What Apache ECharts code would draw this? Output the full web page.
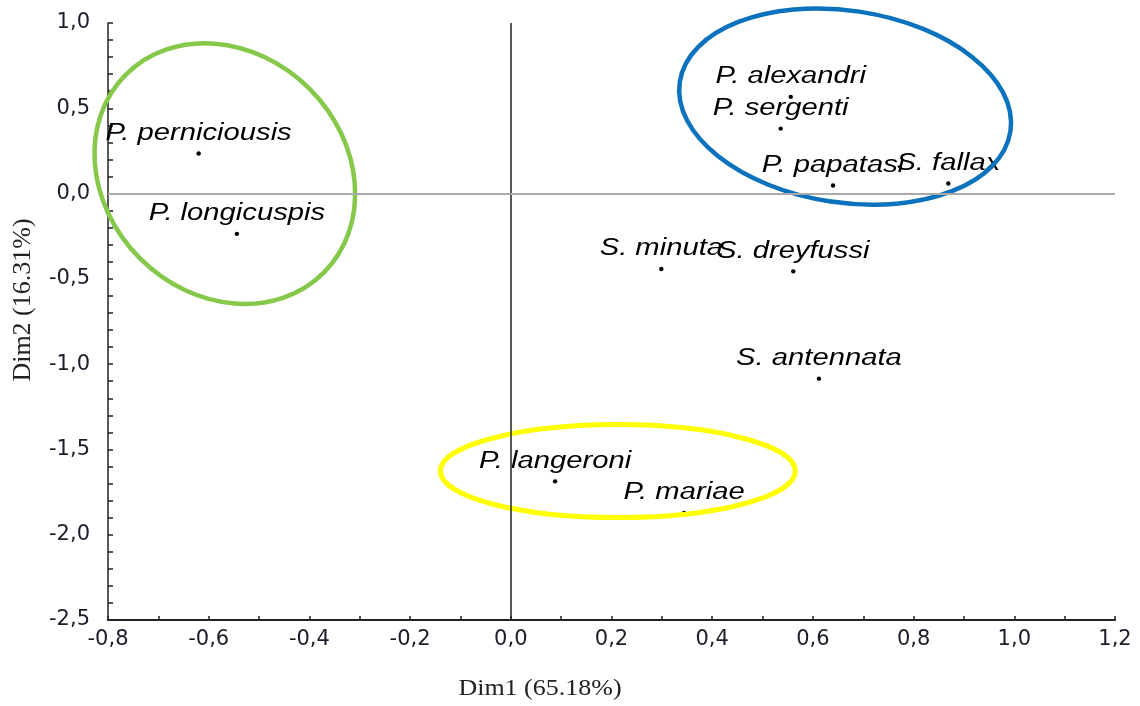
<!DOCTYPE html>
<html><head><meta charset="utf-8">
<script src="https://cdn.jsdelivr.net/npm/echarts@6/dist/echarts.min.js"></script>
<style>html,body{margin:0;padding:0;background:#fff}#c{width:1140px;height:706px}</style>
</head><body><div id="c"></div><script>
// ---- data ----
const speciesNames = ['P. perniciousis','P. longicuspis','P. alexandri','P. sergenti','P. papatasi','S. fallax','S. minuta','S. dreyfussi','S. antennata','P. langeroni','P. mariae'];
const dim1 = [-0.620, -0.544, 0.556, 0.536, 0.640, 0.869, 0.299, 0.561, 0.612, 0.088, 0.344];
const dim2 = [0.235, -0.236, 0.567, 0.381, 0.047, 0.059, -0.442, -0.456, -1.085, -1.687, -1.873];
const xTickLabels = ['-0,8','-0,6','-0,4','-0,2','0,0','0,2','0,4','0,6','0,8','1,0','1,2'];
const yTickLabels = ['-2,5','-2,0','-1,5','-1,0','-0,5','0,0','0,5','1,0'];
const xAxisTitle = 'Dim1 (65.18%)';
const yAxisTitle = 'Dim2 (16.31%)';
// group ellipses (data units): centre, semi-axes, tilt in degrees
const groupCenterX = [-0.568, 0.664, 0.2125];
const groupCenterY = [0.117, 0.510, -1.627];
const groupRadiusX = [0.278, 0.332, 0.3525];
const groupRadiusY = [0.703, 0.563, 0.2726];
const groupTilt = [45, 8.5, 0];

// ---- styles ----
const groupColors = ['#86c84a', '#0b72bd', '#ffff00'];
const groupWidths = [4.5, 4.5, 5];

const pointData = speciesNames.map((n, i) => [dim1[i], dim2[i], i]);
const ellipseData = groupCenterX.map((c, i) => [c, groupCenterY[i], groupRadiusX[i], groupRadiusY[i], groupTilt[i], i]);

const chart = echarts.init(document.getElementById('c'), null, {renderer: 'canvas'});
chart.setOption({
  animation: false,
  backgroundColor: '#fff',
  grid: {left: 108, right: 25, top: 23, bottom: 86, containLabel: false},
  xAxis: {
    type: 'value', min: -0.8, max: 1.2, interval: 0.1,
    axisLine: {show: true, onZero: false, lineStyle: {color: '#222', width: 2}},
    axisTick: {show: true, inside: true, length: 4, lineStyle: {color: '#222', width: 1.5}},
    splitLine: {show: false},
    axisLabel: {
      margin: 9, color: '#1c1c2a', fontFamily: 'DejaVu Sans', fontSize: 21, showMinLabel: true, showMaxLabel: true,
      formatter: v => {
        const k = Math.round((v + 0.8) / 0.1);
        return k % 2 === 0 ? xTickLabels[k / 2] : '';
      }
    }
  },
  yAxis: {
    type: 'value', min: -2.5, max: 1.0, interval: 0.1,
    axisLine: {show: true, onZero: false, lineStyle: {color: '#222', width: 1.5}},
    axisTick: {show: true, inside: true, length: 5, lineStyle: {color: '#222', width: 1.5}},
    splitLine: {show: false},
    axisLabel: {
      margin: 18, color: '#1c1c2a', fontFamily: 'DejaVu Sans', fontSize: 21, showMinLabel: true, showMaxLabel: true,
      formatter: v => {
        const k = Math.round((v + 2.5) / 0.1);
        return k % 5 === 0 ? yTickLabels[k / 5] : '';
      }
    }
  },
  graphic: [
    {type: 'text', x: 540, y: 689, scaleY: 0.9,
     style: {text: xAxisTitle, fontFamily: 'Liberation Serif', fontSize: 26, fill: '#222', align: 'center', verticalAlign: 'middle'}},
    {type: 'text', x: 23, y: 300, rotation: Math.PI / 2,
     style: {text: yAxisTitle, fontFamily: 'Liberation Serif', fontSize: 26, fill: '#222', align: 'center', verticalAlign: 'middle'}}
  ],
  series: [
    {
      type: 'custom', name: 'species', clip: false, z: 3,
      data: pointData,
      encode: {x: 0, y: 1},
      renderItem: (params, api) => {
        const p = api.coord([api.value(0), api.value(1)]);
        const name = speciesNames[api.value(2)];
        return {
          type: 'group',
          children: [
            {type: 'circle', shape: {cx: p[0], cy: p[1], r: 2.2}, style: {fill: '#000'}},
            {type: 'text', x: p[0], y: p[1] - 20, scaleX: 1.27,
             style: {text: name, fontFamily: 'Liberation Sans', fontStyle: 'italic', fontSize: 23,
                     fill: '#000', align: 'center', verticalAlign: 'middle'}}
          ]
        };
      },
      markLine: {
        silent: true, symbol: 'none', label: {show: false}, animation: false,
        data: [
          {xAxis: 0, lineStyle: {color: '#222', width: 1.5, type: 'solid'}},
          {yAxis: 0, lineStyle: {color: '#aaaaaa', width: 2, type: 'solid'}}
        ]
      }
    },
    {
      type: 'custom', name: 'groups', clip: false, z: 4, silent: true,
      data: ellipseData,
      encode: {x: 0, y: 1},
      renderItem: (params, api) => {
        const c = api.coord([api.value(0), api.value(1)]);
        const s = api.size([api.value(2), api.value(3)]);
        const idx = api.value(5);
        return {
          type: 'ellipse', x: c[0], y: c[1], rotation: -api.value(4) * Math.PI / 180,
          shape: {cx: 0, cy: 0, rx: s[0], ry: s[1]},
          style: {fill: 'none', stroke: groupColors[idx], lineWidth: groupWidths[idx]}
        };
      }
    }
  ]
});
</script></body></html>
